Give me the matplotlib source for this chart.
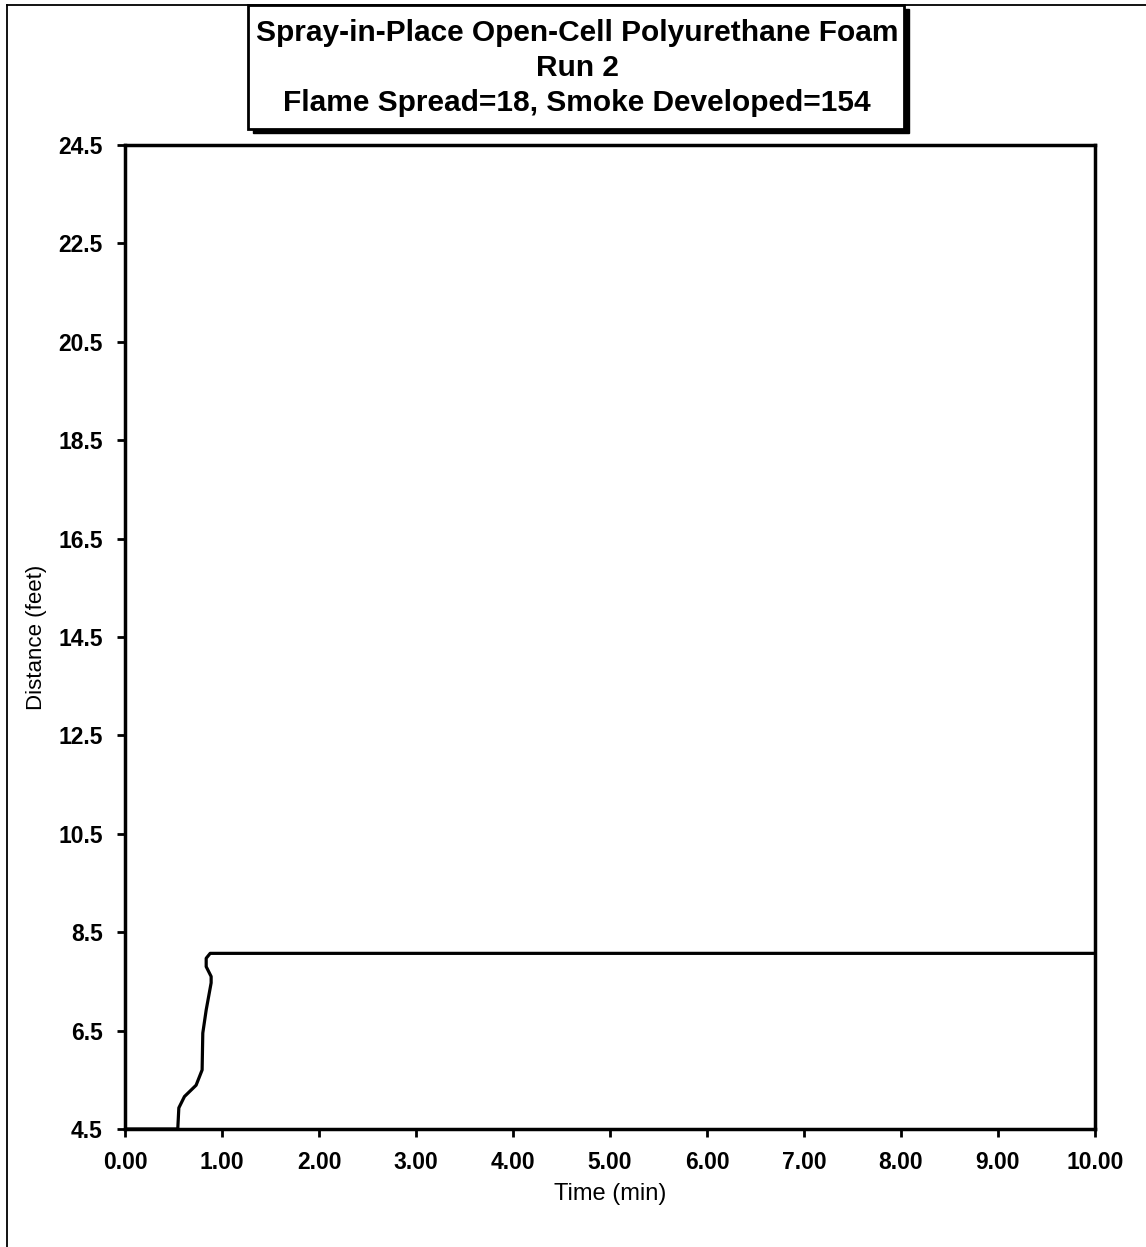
import matplotlib
matplotlib.use('Agg')
import matplotlib.pyplot as plt
import matplotlib.patches as mpatches
from matplotlib.lines import Line2D

# flame front position
time_min = [0.0, 0.544, 0.555, 0.613, 0.733, 0.795, 0.802, 0.837, 0.888, 0.888,
            0.837, 0.837, 0.878, 10.0]
distance_ft = [4.5, 4.5, 4.93, 5.16, 5.39, 5.70, 6.45, 6.92, 7.47, 7.60,
               7.80, 7.97, 8.07, 8.07]

x_ticks = [0, 1, 2, 3, 4, 5, 6, 7, 8, 9, 10]
y_ticks = [4.5, 6.5, 8.5, 10.5, 12.5, 14.5, 16.5, 18.5, 20.5, 22.5, 24.5]

title_lines = ['Spray-in-Place Open-Cell Polyurethane Foam',
               'Run 2',
               'Flame Spread=18, Smoke Developed=154']

plt.rcParams['font.family'] = ['Liberation Sans', 'DejaVu Sans']

W, H = 1146, 1247
fig = plt.figure(figsize=(W / 100, H / 100), dpi=100)
ax = fig.add_axes([125 / W, 1 - 1129 / H, (1095 - 125) / W, (1129 - 145) / H])

ax.plot(time_min, distance_ft, color='black', linewidth=2.3, zorder=3,
        solid_joinstyle='round')

ax.set_xlim(0, 10)
ax.set_ylim(4.5, 24.5)
ax.set_xticks(x_ticks)
ax.set_yticks(y_ticks)
ax.set_xticklabels([f'{v:.2f}' for v in x_ticks], fontsize=16.5, fontweight='bold')
ax.set_yticklabels([f'{v:.1f}' for v in y_ticks], fontsize=16.5, fontweight='bold')
ax.tick_params(axis='both', direction='out', length=6, width=2, color='black')
ax.tick_params(axis='x', pad=10)
ax.tick_params(axis='y', pad=10)
for s in ax.spines.values():
    s.set_linewidth(2.5)
    s.set_color('black')

ax.set_xlabel('Time (min)', fontsize=17, labelpad=6)
ax.set_ylabel('Distance (feet)', fontsize=16, labelpad=8)

# title box with drop shadow (figure pixel coords)
def px(x, y):
    return x / W, 1 - y / H

bx0, by0, bx1, by1 = 248, 5, 904, 129
shadow = mpatches.Rectangle(px(bx0 + 5, by1 + 4), (bx1 - bx0) / W, (by1 - by0) / H,
                            transform=fig.transFigure, facecolor='black',
                            edgecolor='black', zorder=1)
box = mpatches.Rectangle(px(bx0, by1), (bx1 - bx0) / W, (by1 - by0) / H,
                         transform=fig.transFigure, facecolor='white',
                         edgecolor='black', linewidth=2, zorder=2)
fig.patches.extend([shadow, box])
for i, line in enumerate(title_lines):
    fig.text(*px(577, 33 + 35 * i), line, ha='center', va='center',
             fontsize=21.5, fontweight='bold', zorder=3)

# page border lines from the scan
fig.add_artist(Line2D([7 / W, 7 / W], [0, 1 - 5 / H], transform=fig.transFigure,
                      color='black', linewidth=1.3))
fig.add_artist(Line2D([7 / W, 1], [1 - 5 / H, 1 - 5 / H], transform=fig.transFigure,
                      color='black', linewidth=1.3))

fig.savefig('out.png', dpi=100)
